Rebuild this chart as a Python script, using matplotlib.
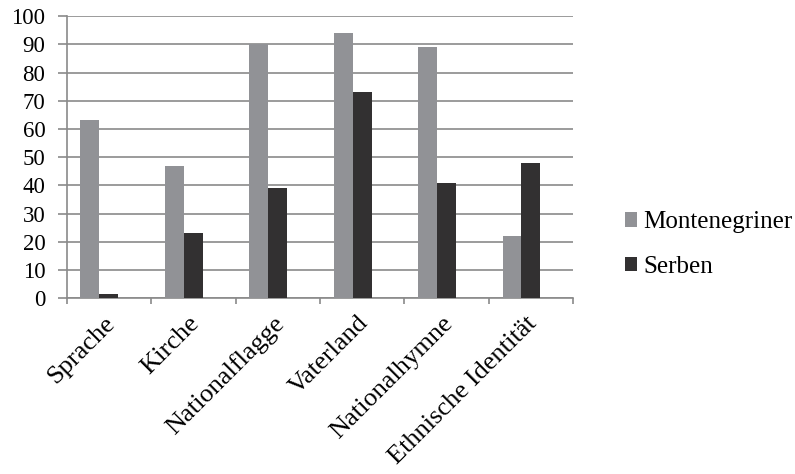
import numpy as np
import matplotlib.pyplot as plt
from matplotlib.transforms import ScaledTranslation

plt.rcParams['font.family'] = ['Liberation Serif', 'DejaVu Serif']

kategorien = ["Sprache", "Kirche", "Nationalflagge", "Vaterland",
              "Nationalhymne", "Ethnische Identität"]
montenegriner = [63, 47, 90, 94, 89, 22]
serben = [1.5, 23, 39, 73, 41, 48]

fig = plt.figure(figsize=(7.95, 4.74), dpi=100)
ax = fig.add_axes([0.084, 0.371, 0.637, 0.595])

x = np.arange(len(kategorien))
w = 0.225
ax.bar(x - w, montenegriner, w, color="#919296", label="Montenegriner", zorder=3)
ax.bar(x, serben, w, color="#323031", label="Serben", zorder=3)

ax.set_xlim(-0.5, len(kategorien) - 0.5)
ax.set_ylim(0, 100)
ax.set_yticks(range(0, 101, 10))
ax.yaxis.grid(True, color="#8a8a8a", linewidth=1.2, zorder=0)
ax.set_axisbelow(True)

# category boundary ticks, labels centred under each group
ax.set_xticks(np.arange(-0.5, len(kategorien)), minor=False)
ax.set_xticklabels([])
ax.set_xticks(x, minor=True)
ax.set_xticklabels(kategorien, minor=True, rotation=45, ha="right",
                   rotation_mode="anchor", fontsize=19)
ax.tick_params(axis="x", which="major", length=4, color="#8a8a8a", width=1.2)
ax.tick_params(axis="x", which="minor", length=0, pad=10)
ax.tick_params(axis="y", length=6.5, color="#8a8a8a", width=1.2, labelsize=16.5, pad=9)

shift = ScaledTranslation(-0.05, 0, fig.dpi_scale_trans)
for lbl in ax.get_xticklabels(minor=True):
    lbl.set_transform(lbl.get_transform() + shift)

for s in ["top", "right"]:
    ax.spines[s].set_visible(False)
for s in ["left", "bottom"]:
    ax.spines[s].set_color("#8a8a8a")
    ax.spines[s].set_linewidth(1.2)

ax.legend(loc="center left", bbox_to_anchor=(1.057, 0.19), frameon=False,
          fontsize=18, handlelength=0.5, handleheight=0.5, handletextpad=0.25,
          labelspacing=0.9)

fig.savefig("out.png", dpi=100)
